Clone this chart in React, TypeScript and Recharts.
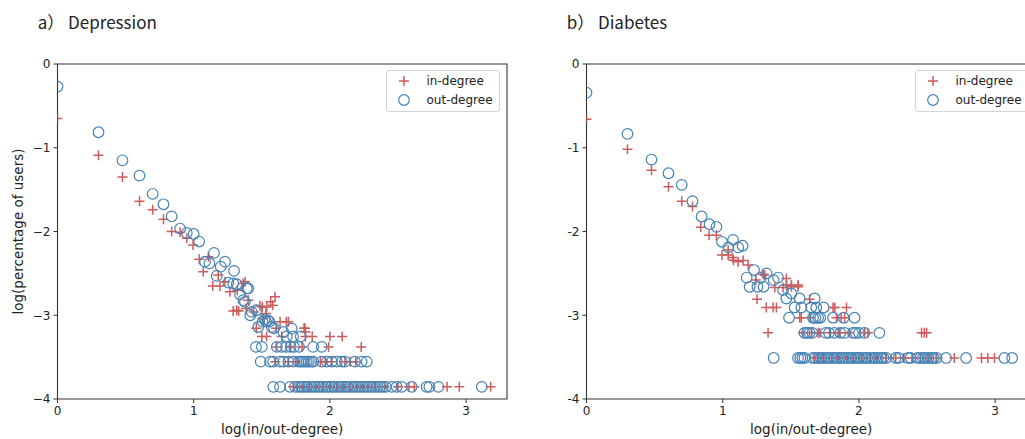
import React from 'react';
import { ScatterChart, Scatter, XAxis, YAxis, ReferenceArea } from 'recharts';

// values (x = log degree, y = log share of users)
const xTicks = [0, 1, 2, 3];
const yTicks = [-4, -3, -2, -1, 0];

// a) Depression
const depInUpper: number[][] = [
  [0, -0.65], [0.301, -1.09], [0.477, -1.35], [0.602, -1.64], [0.699, -1.74], [0.778, -1.855],
  [0.838, -2.0], [0.9, -2.01], [0.949, -2.08], [0.995, -2.16], [1.041, -2.33], [1.07, -2.48],
  [1.107, -2.3], [1.14, -2.65], [1.18, -2.52], [1.193, -2.65], [1.23, -2.6], [1.266, -2.72],
  [1.29, -2.95], [1.32, -2.7], [1.33, -2.95], [1.364, -2.62], [1.377, -2.6], [1.385, -2.92],
  [1.4, -2.82], [1.44, -2.96], [1.487, -2.89], [1.504, -2.9], [1.51, -3.04], [1.53, -2.98],
  [1.536, -2.9], [1.565, -2.84], [1.58, -2.88], [1.597, -2.78], [1.316, -2.94],
  [1.634, -3.077], [1.68, -3.077], [1.695, -3.077], [1.46, -3.156], [1.605, -3.156],
  [1.81, -3.156], [1.817, -3.156], [1.82, -3.2],
];
const depInRows: [number, number[]][] = [
  [-3.253, [1.5, 1.535, 1.646, 1.82, 1.87, 2.0, 2.09]],
  [-3.378, [1.605, 1.71, 1.795, 1.99, 2.23]],
  [-3.554, [1.6, 1.695, 1.75, 1.93, 1.965, 2.01, 2.11, 2.15, 2.19]],
  [-3.855, [1.73, 1.76, 1.8, 1.85, 1.9, 1.95, 2.0, 2.05, 2.1, 2.15, 2.2, 2.24, 2.28, 2.33, 2.4, 2.5, 2.58, 2.62, 2.86, 2.95, 3.18]],
];
const depOutUpper: number[][] = [
  [0, -0.27], [0.301, -0.815], [0.477, -1.15], [0.602, -1.333], [0.699, -1.55], [0.778, -1.675],
  [0.838, -1.82], [0.9, -1.965], [0.949, -2.017], [1.0, -2.03], [1.04, -2.12], [1.149, -2.255],
  [1.083, -2.36], [1.115, -2.38], [1.198, -2.42], [1.23, -2.36], [1.169, -2.53], [1.296, -2.47],
  [1.254, -2.61], [1.29, -2.62], [1.316, -2.63], [1.39, -2.68], [1.4, -2.68], [1.34, -2.75],
  [1.364, -2.82], [1.376, -2.84], [1.426, -2.96], [1.462, -2.94], [1.415, -3.0],
  [1.505, -3.077], [1.52, -3.05], [1.531, -3.077], [1.544, -3.06], [1.556, -3.077],
  [1.474, -3.14], [1.573, -3.14], [1.59, -3.156], [1.72, -3.16], [1.658, -3.2],
  [1.683, -3.253], [1.73, -3.253], [1.786, -3.253],
];
const depOutRows: [number, number[]][] = [
  [-3.378, [1.457, 1.5, 1.61, 1.646, 1.678, 1.712, 1.737, 1.773, 1.877, 1.94]],
  [-3.554, [1.492, 1.56, 1.584, 1.634, 1.659, 1.695, 1.731, 1.768, 1.785, 1.8, 1.815, 1.83, 1.845, 1.862, 1.878, 1.94, 1.977, 2.014, 2.05, 2.087, 2.11, 2.184, 2.233, 2.27]],
  [-3.855, [1.584, 1.634, 1.707, 1.744, 1.77, 1.79, 1.81, 1.83, 1.85, 1.87, 1.89, 1.91, 1.93, 1.95, 1.97, 1.99, 2.01, 2.03, 2.05, 2.07, 2.09, 2.11, 2.13, 2.15, 2.17, 2.19, 2.21, 2.23, 2.25, 2.27, 2.29, 2.31, 2.33, 2.35, 2.37, 2.39, 2.41, 2.454, 2.49, 2.527, 2.6, 2.71, 2.73, 2.796, 3.115]],
];

// b) Diabetes
const diaInUpper: number[][] = [
  [0, -0.66], [0.301, -1.018], [0.477, -1.268], [0.602, -1.467], [0.699, -1.64], [0.778, -1.7],
  [0.839, -1.95], [0.9, -2.044], [0.954, -2.044], [0.995, -2.28], [1.04, -2.22], [1.04, -2.28],
  [1.072, -2.31], [1.079, -2.342], [1.113, -2.36], [1.15, -2.345], [1.187, -2.4], [1.243, -2.58],
  [1.252, -2.81], [1.297, -2.51], [1.308, -2.52], [1.383, -2.668], [1.443, -2.668], [1.468, -2.64],
  [1.505, -2.64], [1.554, -2.64], [1.504, -2.66], [1.553, -2.66], [1.467, -2.56], [1.638, -2.81],
];
const diaInRows: [number, number[]][] = [
  [-2.907, [1.32, 1.37, 1.394, 1.81, 1.823, 1.909]],
  [-3.03, [1.566, 1.577, 1.64, 1.835, 1.87, 1.895]],
  [-3.21, [1.333, 1.589, 1.652, 1.7, 1.713, 1.787, 1.846, 1.86, 1.93, 2.043, 2.066, 2.46, 2.48, 2.497]],
  [-3.51, [1.675, 1.7, 1.74, 1.8, 1.85, 1.91, 1.96, 2.02, 2.08, 2.13, 2.2, 2.27, 2.33, 2.39, 2.45, 2.51, 2.57, 2.7, 2.9, 2.946, 2.995]],
];
const diaOutUpper: number[][] = [
  [0, -0.342], [0.301, -0.835], [0.477, -1.141], [0.602, -1.304], [0.699, -1.443], [0.778, -1.638],
  [0.845, -1.821], [0.903, -1.913], [0.954, -1.944], [0.995, -2.123], [1.041, -2.19], [1.076, -2.1],
  [1.114, -2.19], [1.146, -2.17], [1.23, -2.46], [1.176, -2.55], [1.198, -2.66], [1.255, -2.66],
  [1.3, -2.66], [1.279, -2.55], [1.322, -2.5], [1.374, -2.58], [1.406, -2.55], [1.443, -2.7],
  [1.467, -2.8], [1.504, -2.74], [1.565, -2.8], [1.528, -2.907], [1.577, -2.907], [1.675, -2.8],
  [1.65, -2.907], [1.687, -2.907], [1.741, -2.907],
];
const diaOutRows: [number, number[]][] = [
  [-3.03, [1.487, 1.663, 1.68, 1.7, 1.716, 1.81, 1.888, 1.968]],
  [-3.21, [1.6, 1.619, 1.638, 1.658, 1.756, 1.78, 1.82, 1.863, 1.895, 1.956, 1.976, 2.0, 2.04, 2.15]],
  [-3.51, [1.374, 1.553, 1.57, 1.585, 1.6, 1.66, 1.68, 1.7, 1.72, 1.74, 1.76, 1.78, 1.8, 1.82, 1.84, 1.86, 1.88, 1.9, 1.92, 1.94, 1.96, 1.98, 2.0, 2.02, 2.04, 2.06, 2.08, 2.1, 2.12, 2.14, 2.16, 2.18, 2.2, 2.27, 2.29, 2.36, 2.38, 2.43, 2.45, 2.47, 2.49, 2.51, 2.53, 2.55, 2.57, 2.64, 2.787, 3.068, 3.125]],
];

const RED = 'indianred';
const BLUE = 'steelblue';
const AXIS = '#333';
const TXT = '#222';
const FONT = '"DejaVu Sans", sans-serif';

const toPts = (upper: number[][], rows: [number, number[]][]) => [
  ...upper.map(([x, y]) => ({ x, y })),
  ...rows.flatMap(([y, xs]) => xs.map((x) => ({ x, y }))),
];

const PlusShape = (props: any) => {
  const { cx, cy } = props;
  return <path d={`M${cx - 5},${cy}H${cx + 5}M${cx},${cy - 5}V${cy + 5}`} stroke={RED} strokeWidth={1.5} fill="none" />;
};

const CircleShape = (props: any) => {
  const { cx, cy } = props;
  return <circle cx={cx} cy={cy} r={5.3} fill="none" stroke={BLUE} strokeWidth={1.2} />;
};

interface PanelProps {
  title: string;
  inPts: { x: number; y: number }[];
  outPts: { x: number; y: number }[];
  yLabel?: string;
  unicodeMinus?: boolean;
}

const Panel: React.FC<PanelProps> = ({ title, inPts, outPts, yLabel, unicodeMinus }) => {
  const fmtY = (v: number) => (v < 0 && unicodeMinus ? `\u2212${Math.abs(v)}` : `${v}`);
  return (
    <div style={{ position: 'relative', width: 520, height: 439 }}>
      <ScatterChart width={520} height={439} margin={{ top: 64, right: 13, bottom: 0, left: 0.5 }}>
        <XAxis
          type="number"
          dataKey="x"
          domain={[0, 3.3]}
          ticks={xTicks}
          allowDataOverflow
          height={40}
          tickSize={4}
          tickMargin={3}
          axisLine={false}
          tickLine={{ stroke: AXIS }}
          tick={{ fill: TXT, fontSize: 12, fontFamily: FONT }}
          label={{ value: 'log(in/out-degree)', position: 'insideBottom', offset: 5.5, fill: TXT, fontSize: 13.5, fontFamily: FONT }}
        />
        <YAxis
          type="number"
          dataKey="y"
          domain={[-4, 0]}
          ticks={yTicks}
          allowDataOverflow
          width={57}
          tickSize={4}
          tickMargin={3}
          axisLine={false}
          tickLine={{ stroke: AXIS }}
          tickFormatter={fmtY}
          tick={{ fill: TXT, fontSize: 12, fontFamily: FONT }}
        />
        <ReferenceArea x1={0} x2={3.3} y1={-4} y2={0} fill="none" fillOpacity={0} stroke={AXIS} strokeWidth={1.1} />
        <Scatter data={inPts} shape={PlusShape} isAnimationActive={false} />
        <Scatter data={outPts} shape={CircleShape} isAnimationActive={false} />
      </ScatterChart>
      <svg width={520} height={439} style={{ position: 'absolute', left: 0, top: 0, pointerEvents: 'none' }}>
        <text x={37.7} y={29} fontFamily='"Noto Sans CJK SC", sans-serif' fontSize={17} fill={TXT}>
          {title}
        </text>
        {yLabel && (
          <text
            x={17.5}
            y={231.5}
            transform="rotate(-90 17.5 231.5)"
            textAnchor="middle"
            dominantBaseline="central"
            fontFamily={FONT}
            fontSize={13.5}
            fill={TXT}
          >
            {yLabel}
          </text>
        )}
      </svg>
      <div
        style={{
          position: 'absolute',
          left: 386,
          top: 70,
          width: 114,
          height: 42,
          boxSizing: 'border-box',
          border: '1px solid #d4d4d4',
          borderRadius: 3,
          background: 'rgba(255,255,255,0.85)',
        }}
      >
        <svg width={114} height={42} style={{ position: 'absolute', left: -1, top: -1 }}>
          <PlusShape cx={18} cy={11} />
          <CircleShape cx={18} cy={30} />
          <text x={40.5} y={11} dominantBaseline="central" fontFamily={FONT} fontSize={12} fill={TXT}>in-degree</text>
          <text x={40.5} y={30} dominantBaseline="central" fontFamily={FONT} fontSize={12} fill={TXT}>out-degree</text>
        </svg>
      </div>
    </div>
  );
};

export default function App() {
  return (
    <div style={{ position: 'fixed', left: 0, top: 0, width: 1025, height: 439, overflow: 'hidden', background: '#fff' }}>
      <div style={{ position: 'absolute', left: 0, top: 0 }}>
        <Panel
          title="a） Depression"
          inPts={toPts(depInUpper, depInRows)}
          outPts={toPts(depOutUpper, depOutRows)}
          yLabel="log(percentage of users)"
          unicodeMinus
        />
      </div>
      <div style={{ position: 'absolute', left: 529, top: 0 }}>
        <Panel title="b） Diabetes" inPts={toPts(diaInUpper, diaInRows)} outPts={toPts(diaOutUpper, diaOutRows)} />
      </div>
    </div>
  );
}
